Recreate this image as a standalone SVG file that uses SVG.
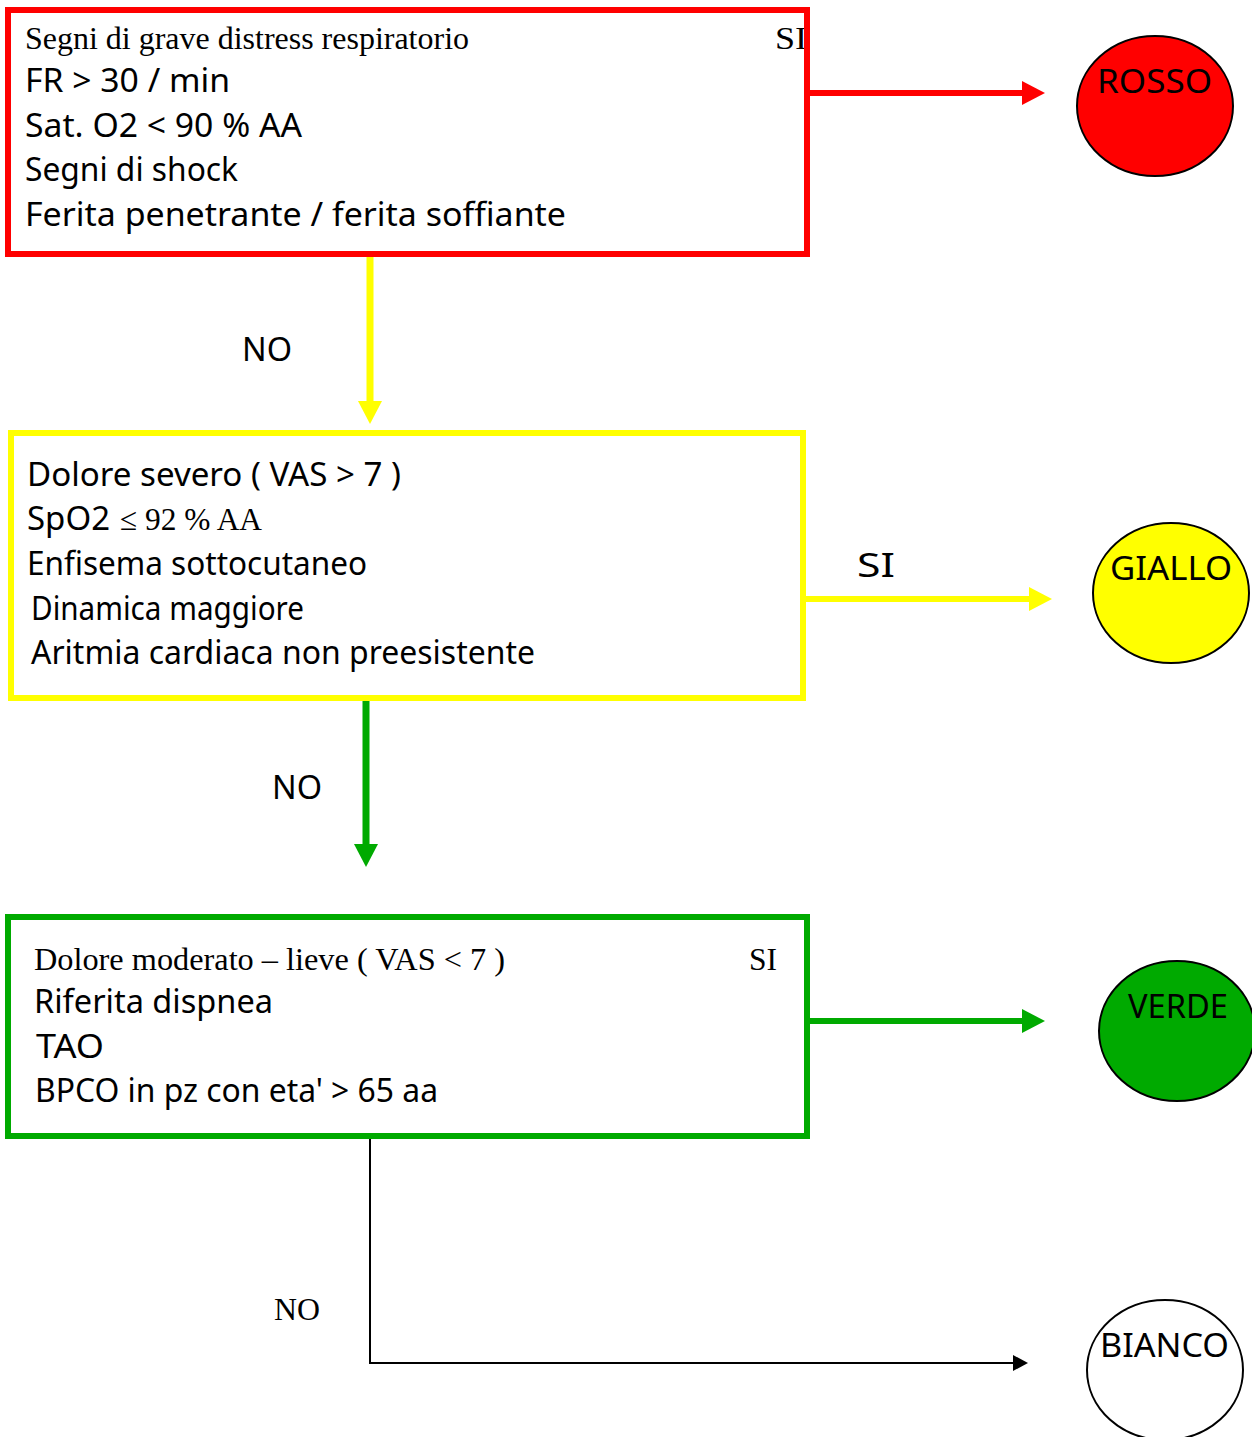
<svg xmlns="http://www.w3.org/2000/svg" width="1252" height="1437" viewBox="0 0 1252 1437">
  <style>
    .box { fill: #ffffff; stroke-width: 6; }
    .sans { font-family: "Noto Sans", "DejaVu Sans", sans-serif; font-size: 33px; fill: #000; }
    .serif { font-family: "Liberation Serif", "Times New Roman", serif; font-size: 32px; fill: #000; }
    .lamp { stroke: #000; stroke-width: 2; }
    .wire { fill: none; }
  </style>
  <defs>
    <!-- heads start at the line end (refX 0), so the shaft never pokes past the tip -->
    <marker id="headRed" markerUnits="userSpaceOnUse" markerWidth="23" markerHeight="24" refX="0" refY="12" orient="auto" overflow="visible">
      <path d="M0,0 L23,12 L0,24 Z" fill="#ff0000"/>
    </marker>
    <marker id="headYellow" markerUnits="userSpaceOnUse" markerWidth="23" markerHeight="24" refX="0" refY="12" orient="auto" overflow="visible">
      <path d="M0,0 L23,12 L0,24 Z" fill="#ffff00"/>
    </marker>
    <marker id="headGreen" markerUnits="userSpaceOnUse" markerWidth="23" markerHeight="24" refX="0" refY="12" orient="auto" overflow="visible">
      <path d="M0,0 L23,12 L0,24 Z" fill="#00aa00"/>
    </marker>
    <marker id="headBlack" markerUnits="userSpaceOnUse" markerWidth="15" markerHeight="16" refX="0" refY="8" orient="auto" overflow="visible">
      <path d="M0,0 L15,8 L0,16 Z" fill="#000"/>
    </marker>
  </defs>

  <rect width="1252" height="1437" fill="#ffffff"/>

  <!-- connectors -->
  <g id="connectors" class="wire">
    <line x1="810" y1="93" x2="1022" y2="93" stroke="#ff0000" stroke-width="6" marker-end="url(#headRed)"/>
    <line x1="370" y1="257" x2="370" y2="401" stroke="#ffff00" stroke-width="7" marker-end="url(#headYellow)"/>
    <line x1="805" y1="599" x2="1029" y2="599" stroke="#ffff00" stroke-width="6" marker-end="url(#headYellow)"/>
    <line x1="366" y1="700" x2="366" y2="844" stroke="#00aa00" stroke-width="7" marker-end="url(#headGreen)"/>
    <line x1="810" y1="1021" x2="1022" y2="1021" stroke="#00aa00" stroke-width="6" marker-end="url(#headGreen)"/>
    <polyline points="370,1136 370,1363 1013,1363" stroke="#000" stroke-width="2" marker-end="url(#headBlack)"/>
    <text class="sans" x="242" y="361" textLength="50" lengthAdjust="spacingAndGlyphs">NO</text>
    <text class="sans" x="272" y="799" textLength="50" lengthAdjust="spacingAndGlyphs">NO</text>
    <text class="sans" x="857" y="577" textLength="38" lengthAdjust="spacingAndGlyphs">SI</text>
    <text class="serif" x="274" y="1320" textLength="46" lengthAdjust="spacingAndGlyphs">NO</text>
  </g>

  <!-- first check: red criteria -->
  <g id="check-red">
    <rect class="box" x="8" y="10" width="799" height="244" stroke="#ff0000"/>
    <text class="serif" x="775" y="49" textLength="32" lengthAdjust="spacingAndGlyphs">SI</text>
    <rect x="8" y="10" width="799" height="244" fill="none" stroke="#ff0000" stroke-width="6"/>
    <text class="serif" x="25" y="49" textLength="444" lengthAdjust="spacingAndGlyphs">Segni di grave distress respiratorio</text>
    <text class="sans" x="25" y="92" textLength="205" lengthAdjust="spacingAndGlyphs">FR &gt;  30 / min</text>
    <text class="sans" x="25" y="137" textLength="277" lengthAdjust="spacingAndGlyphs">Sat. O2 &lt; 90 % AA</text>
    <text class="sans" x="25" y="181" textLength="213" lengthAdjust="spacingAndGlyphs">Segni di shock</text>
    <text class="sans" x="25" y="226" textLength="541" lengthAdjust="spacingAndGlyphs">Ferita penetrante / ferita soffiante</text>
  </g>

  <!-- second check: yellow criteria -->
  <g id="check-yellow">
    <rect class="box" x="11" y="433" width="792" height="265" stroke="#ffff00"/>
    <text class="sans" x="27" y="486" textLength="374" lengthAdjust="spacingAndGlyphs">Dolore severo ( VAS &gt; 7 )</text>
    <text class="sans" x="27" y="530" textLength="83" lengthAdjust="spacingAndGlyphs">SpO2</text>
    <text class="serif" x="120" y="530" textLength="142" lengthAdjust="spacingAndGlyphs">≤ 92 % AA</text>
    <text class="sans" x="27" y="575" textLength="340" lengthAdjust="spacingAndGlyphs">Enfisema sottocutaneo</text>
    <text class="sans" x="31" y="620" textLength="273" lengthAdjust="spacingAndGlyphs">Dinamica maggiore</text>
    <text class="sans" x="31" y="664" textLength="504" lengthAdjust="spacingAndGlyphs">Aritmia cardiaca non preesistente</text>
  </g>

  <!-- third check: green criteria -->
  <g id="check-green">
    <rect class="box" x="8" y="917" width="799" height="219" stroke="#00aa00"/>
    <text class="serif" x="34" y="970" textLength="471" lengthAdjust="spacingAndGlyphs">Dolore moderato – lieve ( VAS &lt; 7 )</text>
    <text class="serif" x="749" y="970" textLength="28" lengthAdjust="spacingAndGlyphs">SI</text>
    <text class="sans" x="34" y="1013" textLength="239" lengthAdjust="spacingAndGlyphs">Riferita dispnea</text>
    <text class="sans" x="36" y="1058" textLength="68" lengthAdjust="spacingAndGlyphs">TAO</text>
    <text class="sans" x="35" y="1102" textLength="403" lengthAdjust="spacingAndGlyphs">BPCO in pz con eta' &gt; 65 aa</text>
  </g>

  <!-- outcome codes -->
  <g id="code-rosso">
    <ellipse class="lamp" cx="1155" cy="106" rx="78" ry="70" fill="#ff0000"/>
    <text class="sans" x="1097" y="93" textLength="115" lengthAdjust="spacingAndGlyphs">ROSSO</text>
  </g>
  <g id="code-giallo">
    <ellipse class="lamp" cx="1171" cy="593" rx="78" ry="70" fill="#ffff00"/>
    <text class="sans" x="1110" y="580" textLength="122" lengthAdjust="spacingAndGlyphs">GIALLO</text>
  </g>
  <g id="code-verde">
    <ellipse class="lamp" cx="1177" cy="1031" rx="78" ry="70" fill="#00aa00"/>
    <text class="sans" x="1128" y="1018" textLength="100" lengthAdjust="spacingAndGlyphs">VERDE</text>
  </g>
  <g id="code-bianco">
    <ellipse class="lamp" cx="1165" cy="1370" rx="78" ry="70" fill="#ffffff"/>
    <text class="sans" x="1100" y="1357" textLength="129" lengthAdjust="spacingAndGlyphs">BIANCO</text>
  </g>
</svg>
